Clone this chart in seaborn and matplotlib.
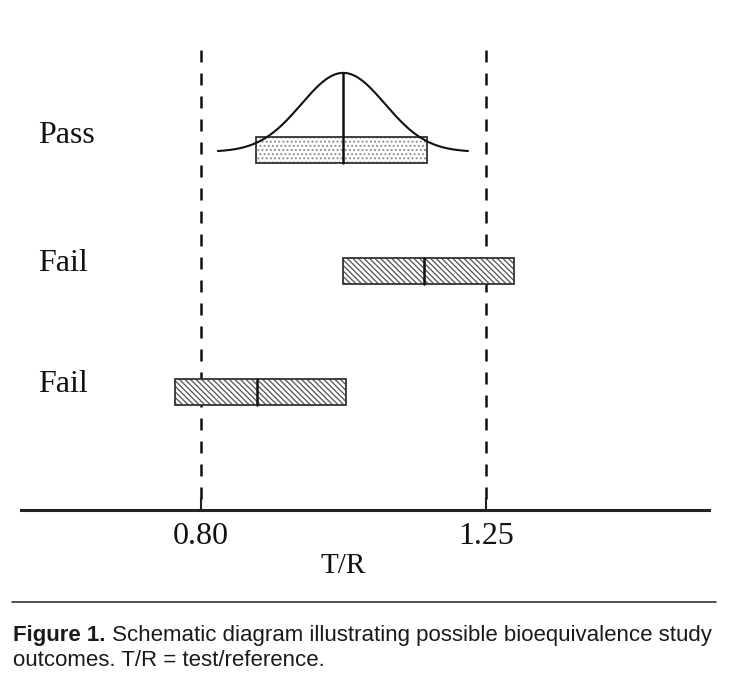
import numpy as np
import pandas as pd
import seaborn as sns
import matplotlib.pyplot as plt
from matplotlib.lines import Line2D

# outcomes of three schematic studies: CI of T/R and point estimate
outcomes = ['Pass', 'Fail', 'Fail']
row_pos = [3, 2, 1]
ci_low = [0.887, 1.025, 0.759]
ci_high = [1.157, 1.294, 1.029]
point_est = [1.025, 1.152, 0.888]

# acceptance limits
limits = [0.80, 1.25]
tick_labels = ['0.80', '1.25']

# bell curve drawn over the passing study
curve_mu = 1.025
curve_sd = 0.066
curve_range = [0.827, 1.222]
curve_base = 2.983
curve_amp = 0.653

sns.set_theme(style='white')
plt.rcParams['font.family'] = ['Liberation Serif', 'DejaVu Serif']
plt.rcParams['hatch.linewidth'] = 0.9

fig = plt.figure(figsize=(7.36, 6.82), dpi=100)
ax = fig.add_axes([0.0285, 0.2522, 0.9348, 0.6745])
ax.set_xlim(0.516, 1.6026)
ax.set_ylim(0.025, 3.825)

bar_h = 0.215
for i in range(len(outcomes)):
    w = ci_high[i] - ci_low[i]
    if outcomes[i] == 'Pass':
        ax.barh(row_pos[i], w, left=ci_low[i], height=bar_h, color='white',
                edgecolor='#8a8a8a', hatch='....', lw=0, zorder=2)
    else:
        ax.barh(row_pos[i], w, left=ci_low[i], height=bar_h, color='white',
                edgecolor='#505050', hatch='\\\\\\\\\\\\', lw=0, zorder=2)
    ax.barh(row_pos[i], w, left=ci_low[i], height=bar_h, fill=False,
            edgecolor='#333333', lw=1.3, zorder=3)

# normal curve over the pass interval
xs = np.linspace(curve_range[0], curve_range[1], 300)
curve = pd.DataFrame({'x': xs,
                      'y': curve_base + curve_amp * np.exp(-(xs - curve_mu) ** 2 / (2 * curve_sd ** 2))})
sns.lineplot(data=curve, x='x', y='y', color='#111111', lw=1.5, ax=ax, zorder=4)

# point estimates
for i in range(len(outcomes)):
    top = row_pos[i] + bar_h / 2
    if outcomes[i] == 'Pass':
        top = curve_base + curve_amp
    ax.plot([point_est[i], point_est[i]], [row_pos[i] - bar_h / 2, top],
            color='#111111', lw=1.8, zorder=5)

# acceptance limits
for lim in limits:
    ax.plot([lim, lim], [3.825, 0.025], color='#111111', lw=1.8,
            ls=(0, (4.8, 4.4)), zorder=1)

for i in range(len(outcomes)):
    y = row_pos[i] + (0.058 if outcomes[i] == 'Pass' else 0.0)
    ax.text(0.543, y, outcomes[i], fontsize=23, va='baseline', ha='left', color='#111111')

sns.despine(ax=ax, left=True, top=True, right=True)
ax.spines['bottom'].set_linewidth(2.2)
ax.spines['bottom'].set_color('#222222')
ax.set_yticks([])
ax.set_xticks(limits)
ax.set_xticklabels(tick_labels)
ax.tick_params(axis='x', direction='in', length=8.6, width=1.5, color='#222222',
               labelsize=23, pad=8.5, labelcolor='#111111', bottom=True)
ax.set_xlabel('')
ax.set_ylabel('')
ax.text(1.025, -0.137, 'T/R', transform=ax.get_xaxis_transform(), ha='center',
        va='baseline', fontsize=21, color='#111111')

# caption
fig.add_artist(Line2D([12 / 736, 716 / 736], [1 - 601.7 / 682] * 2, lw=1.1, color='#222222'))
cap_font = ['Liberation Sans', 'DejaVu Sans']
t1 = fig.text(13 / 736, 1 - 640.7 / 682, 'Figure 1.', fontsize=16, fontweight='bold',
              family=cap_font, va='baseline', color='#1a1a1a')
fig.canvas.draw()
bb = t1.get_window_extent()
fig.text(bb.x1 / 736, 1 - 640.7 / 682, ' Schematic diagram illustrating possible bioequivalence study',
         fontsize=16, family=cap_font, va='baseline', color='#1a1a1a')
fig.text(13 / 736, 1 - 666 / 682, 'outcomes. T/R = test/reference.', fontsize=16,
         family=cap_font, va='baseline', color='#1a1a1a')

fig.savefig('out.png', dpi=100)
